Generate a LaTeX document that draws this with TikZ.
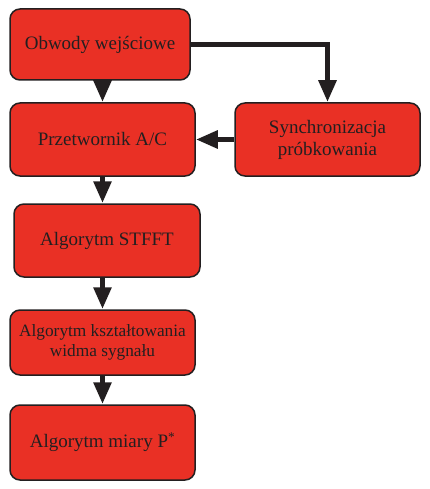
\documentclass[tikz,border=0pt]{standalone}
\usepackage{fontspec}
\setmainfont{Liberation Serif}
\usetikzlibrary{arrows.meta}
\definecolor{boxred}{RGB}{233,48,37}
\definecolor{ink}{RGB}{35,31,32}
\tikzset{
  blok/.style={draw=ink, line width=1.5pt, fill=boxred, rounded corners=10pt,
    text=ink, align=center, inner sep=0pt, minimum width=185pt,
    font=\fontsize{19}{22}\selectfont},
  flow/.style={draw=ink, line width=5.5pt,
    -{Triangle[length=22pt,width=17pt]}}
}
\begin{document}
\begin{tikzpicture}[x=1pt,y=-1pt]
  \useasboundingbox (0,0) rectangle (429,489);
  \node[blok, minimum width=180pt, minimum height=71pt] (obwody) at (100,44.5) {Obwody wejściowe};
  \node[blok, minimum height=73pt] (przetwornik) at (102.5,139.5) {Przetwornik A/C};
  \node[blok, minimum height=73pt] (synchro) at (327.5,139.5) {Synchronizacja\\próbkowania};
  \node[blok, minimum width=186pt, minimum height=73pt] (stfft) at (107,240.5) {Algorytm STFFT};
  \node[blok, minimum height=65pt, font=\fontsize{17.3}{20}\selectfont] (ksztalt) at (102.5,342.5) {Algorytm kształtowania\\widma sygnału};
  \node[blok, minimum height=75pt] (miara) at (102.5,442.5) {Algorytm miary P\textsuperscript{*}};

  \draw[flow] (obwody.south -| przetwornik.north) -- (przetwornik.north);
  \draw[flow] (obwody.east) -| (synchro.north);
  \draw[flow] (synchro.west) -- (przetwornik.east);
  \draw[flow] (przetwornik.south) -- (przetwornik.south |- stfft.north);
  \draw[flow] (stfft.south -| ksztalt.north) -- (ksztalt.north);
  \draw[flow] (ksztalt.south) -- (miara.north);
\end{tikzpicture}
\end{document}
